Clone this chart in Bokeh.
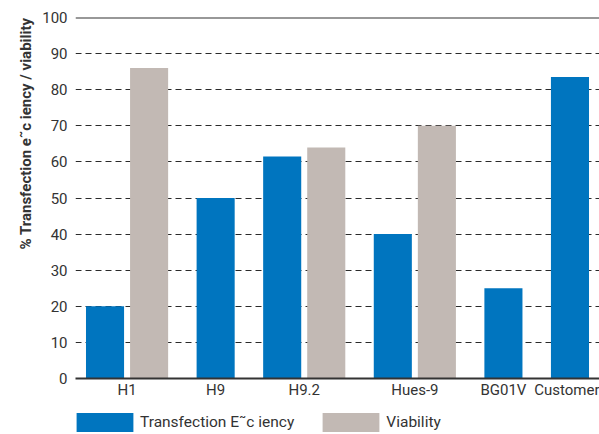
from bokeh.plotting import figure
from bokeh.layouts import column
from bokeh.models import (FactorRange, Range1d, ColumnDataSource, Legend, LegendItem,
                          Span, Title, FixedTicker)
from bokeh.embed import file_html
from bokeh.resources import INLINE

# ---- data ----
cell_lines = ["H1", "H9", "H9.2", "Hues-9", "BG01V", "Customer"]
transfection = [20, 50, 61.5, 40, 25, 83.5]
viability = [86, None, 64, 70, None, None]
series_keys = ["T", "V"]
series_names = ["Transfection E\u02dcc iency", "Viability"]
y_ticks = [0, 10, 20, 30, 40, 50, 60, 70, 80, 90, 100]
y_title = "% Transfection e\u02dcc iency / viability"

BLUE = "#0075BF"
GREY = "#C2B9B4"
TXT = "#333333"
FONT = "Roboto"

factors = []
t_x, t_top, v_x, v_top = [], [], [], []
for name, t, v in zip(cell_lines, transfection, viability):
    if t is not None:
        factors.append((name, series_keys[0]))
        t_x.append((name, series_keys[0]))
        t_top.append(t)
    if v is not None:
        factors.append((name, series_keys[1]))
        v_x.append((name, series_keys[1]))
        v_top.append(v)

src_t = ColumnDataSource(data=dict(x=t_x, top=t_top))
src_v = ColumnDataSource(data=dict(x=v_x, top=v_top))

x_range = FactorRange(*factors, group_padding=0.51, factor_padding=0.0,
                      range_padding=0.17, range_padding_units="absolute")

p = figure(width=599, height=404, x_range=x_range, y_range=Range1d(0, 100),
           output_backend="svg", toolbar_location=None,
           min_border_left=75, min_border_right=0, min_border_top=17,
           min_border_bottom=26)
p.outline_line_color = None
p.background_fill_color = "white"

p.vbar(x="x", top="top", width=0.864, source=src_t, fill_color=BLUE, line_color=None)
p.vbar(x="x", top="top", width=0.864, source=src_v, fill_color=GREY, line_color=None)

# grid
p.xgrid.grid_line_color = None
p.ygrid.ticker = FixedTicker(ticks=y_ticks[:-1])
p.ygrid.grid_line_color = "#2b2b2b"
p.ygrid.grid_line_dash = "6 4"
p.ygrid.grid_line_width = 1
p.add_layout(Span(location=100, dimension="width", line_color="#333333", line_width=2))

# y axis
p.yaxis.ticker = FixedTicker(ticks=y_ticks)
p.yaxis.axis_line_color = None
p.yaxis.major_tick_line_color = None
p.yaxis.major_tick_out = 0
p.yaxis.minor_tick_line_color = None
p.yaxis.major_label_text_font = FONT
p.yaxis.major_label_text_font_size = "15px"
p.yaxis.major_label_text_color = TXT
p.yaxis.major_label_standoff = 8

# x axis
p.xaxis.axis_line_color = "#333333"
p.xaxis.axis_line_width = 2
p.xaxis.major_tick_line_color = None
p.xaxis.major_tick_out = 0
p.xaxis.major_label_text_font_size = "1px"
p.xaxis.major_label_text_color = None
p.xaxis.major_label_standoff = 2
p.xaxis.group_text_font = FONT
p.xaxis.group_text_font_size = "15px"
p.xaxis.group_text_color = TXT
p.xaxis.group_text_font_style = "normal"
p.xaxis.separator_line_color = None

# y title
p.add_layout(Title(text=y_title, align="right", text_font=FONT, text_font_size="15px",
                   text_font_style="bold", text_color=TXT), "left")

# legend strip below the chart (shares the x range; its bars lie outside its y range)
p2 = figure(width=599, height=30, x_range=x_range, y_range=Range1d(1000, 1001),
            output_backend="svg", toolbar_location=None,
            x_axis_location=None, y_axis_location=None,
            min_border_left=0, min_border_right=0, min_border_top=0, min_border_bottom=0)
p2.outline_line_color = None
p2.grid.visible = False
sw_t = p2.vbar(x="x", top="top", width=0.864, source=src_t, fill_color=BLUE, line_color=None)
sw_v = p2.vbar(x="x", top="top", width=0.864, source=src_v, fill_color=GREY, line_color=None)

legend = Legend(items=[LegendItem(label=series_names[0], renderers=[sw_t]),
                       LegendItem(label=series_names[1], renderers=[sw_v])],
                location=(-6, 0), orientation="horizontal",
                glyph_width=71, glyph_height=24, label_height=24,
                label_standoff=0, spacing=21, padding=0, margin=0,
                border_line_color=None, background_fill_alpha=0,
                label_text_font=FONT, label_text_font_size="15.5px",
                label_text_color=TXT)
p2.add_layout(legend)

layout = column(p, p2, spacing=0)
open("out.html", "w").write(file_html(layout, INLINE))
